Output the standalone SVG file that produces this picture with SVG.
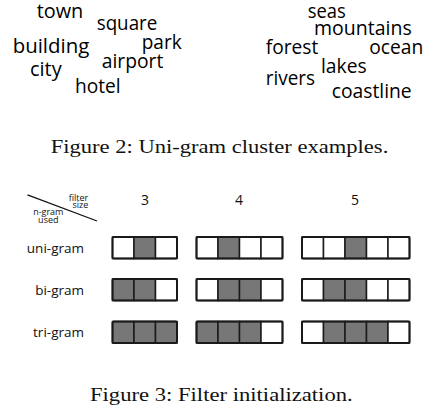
<svg xmlns="http://www.w3.org/2000/svg" width="431" height="409" viewBox="0 0 431 409">
<style>
.w{font-family:"Open Sans","DejaVu Sans",sans-serif;font-size:19.5px;fill:#000}
.cap{font-family:"Liberation Serif","Times New Roman",serif;font-size:19.5px;fill:#111}
.lab{font-family:"Open Sans","DejaVu Sans",sans-serif;font-size:13.5px;fill:#111;text-anchor:end}
.num{font-family:"Open Sans","DejaVu Sans",sans-serif;font-size:14px;fill:#111;text-anchor:middle}
.sm{font-family:"Open Sans","DejaVu Sans",sans-serif;font-size:9px;fill:#111}
.c{fill:#fff;stroke:#1a1a1a;stroke-width:1.5}
.g{fill:#777;stroke:#1a1a1a;stroke-width:1.5}
.o{fill:none;stroke:#1a1a1a;stroke-width:2}
</style>
<defs>
<rect id="cw" class="c" width="21.5" height="21.5"/>
<rect id="cg" class="g" width="21.5" height="21.5"/>
</defs>
<g id="cloud-left">
<text class="w" x="36.7" y="17.8" textLength="46.6" lengthAdjust="spacingAndGlyphs">town</text>
<text class="w" x="96.7" y="29.5" textLength="60.6" lengthAdjust="spacingAndGlyphs">square</text>
<text class="w" x="12.7" y="53.3" textLength="76.6" lengthAdjust="spacingAndGlyphs">building</text>
<text class="w" x="141.7" y="49.3" textLength="40" lengthAdjust="spacingAndGlyphs">park</text>
<text class="w" x="30" y="76" textLength="31.7" lengthAdjust="spacingAndGlyphs">city</text>
<text class="w" x="101.7" y="68.3" textLength="61.6" lengthAdjust="spacingAndGlyphs">airport</text>
<text class="w" x="75" y="92.7" textLength="45.7" lengthAdjust="spacingAndGlyphs">hotel</text>
</g>
<g id="cloud-right">
<text class="w" x="307.7" y="17.8" textLength="38" lengthAdjust="spacingAndGlyphs">seas</text>
<text class="w" x="314" y="35.2" textLength="97.7" lengthAdjust="spacingAndGlyphs">mountains</text>
<text class="w" x="265.7" y="54.3" textLength="52.6" lengthAdjust="spacingAndGlyphs">forest</text>
<text class="w" x="369.3" y="54.3" textLength="54" lengthAdjust="spacingAndGlyphs">ocean</text>
<text class="w" x="321" y="72.7" textLength="45.7" lengthAdjust="spacingAndGlyphs">lakes</text>
<text class="w" x="265.7" y="85" textLength="49.3" lengthAdjust="spacingAndGlyphs">rivers</text>
<text class="w" x="331.7" y="98.3" textLength="80" lengthAdjust="spacingAndGlyphs">coastline</text>
</g>
<text class="cap" x="50.7" y="153.3" textLength="337.6" lengthAdjust="spacingAndGlyphs">Figure 2: Uni-gram cluster examples.</text>
<g id="header">
<line x1="27.5" y1="194.8" x2="97" y2="221" stroke="#111" stroke-width="1.3"/>
<text class="sm" x="88.3" y="201" text-anchor="end">filter</text>
<text class="sm" x="88.3" y="208" text-anchor="end">size</text>
<text class="sm" x="48.3" y="214.8" text-anchor="middle">n-gram</text>
<text class="sm" x="48.3" y="222.8" text-anchor="middle">used</text>
<text class="num" x="145" y="204.5">3</text>
<text class="num" x="239" y="204.5">4</text>
<text class="num" x="355" y="204.5">5</text>
</g>
<g id="row-labels">
<text class="lab" x="84" y="252.5">uni-gram</text>
<text class="lab" x="84" y="294.5">bi-gram</text>
<text class="lab" x="84" y="337">tri-gram</text>
</g>
<g id="f3-uni"><use href="#cw" x="112.5" y="237"/><use href="#cg" x="134" y="237"/><use href="#cw" x="155.5" y="237"/><rect class="o" x="112.5" y="237" width="64.5" height="21.5" rx="1.5"/></g>
<g id="f3-bi"><use href="#cg" x="112.5" y="279"/><use href="#cg" x="134" y="279"/><use href="#cw" x="155.5" y="279"/><rect class="o" x="112.5" y="279" width="64.5" height="21.5" rx="1.5"/></g>
<g id="f3-tri"><use href="#cg" x="112.5" y="321.5"/><use href="#cg" x="134" y="321.5"/><use href="#cg" x="155.5" y="321.5"/><rect class="o" x="112.5" y="321.5" width="64.5" height="21.5" rx="1.5"/></g>
<g id="f4-uni"><use href="#cw" x="196.5" y="237"/><use href="#cg" x="218" y="237"/><use href="#cw" x="239.5" y="237"/><use href="#cw" x="261" y="237"/><rect class="o" x="196.5" y="237" width="86" height="21.5" rx="1.5"/></g>
<g id="f4-bi"><use href="#cw" x="196.5" y="279"/><use href="#cg" x="218" y="279"/><use href="#cg" x="239.5" y="279"/><use href="#cw" x="261" y="279"/><rect class="o" x="196.5" y="279" width="86" height="21.5" rx="1.5"/></g>
<g id="f4-tri"><use href="#cg" x="196.5" y="321.5"/><use href="#cg" x="218" y="321.5"/><use href="#cg" x="239.5" y="321.5"/><use href="#cw" x="261" y="321.5"/><rect class="o" x="196.5" y="321.5" width="86" height="21.5" rx="1.5"/></g>
<g id="f5-uni"><use href="#cw" x="302" y="237"/><use href="#cw" x="323.5" y="237"/><use href="#cg" x="345" y="237"/><use href="#cw" x="366.5" y="237"/><use href="#cw" x="388" y="237"/><rect class="o" x="302" y="237" width="107.5" height="21.5" rx="1.5"/></g>
<g id="f5-bi"><use href="#cw" x="302" y="279"/><use href="#cg" x="323.5" y="279"/><use href="#cg" x="345" y="279"/><use href="#cw" x="366.5" y="279"/><use href="#cw" x="388" y="279"/><rect class="o" x="302" y="279" width="107.5" height="21.5" rx="1.5"/></g>
<g id="f5-tri"><use href="#cw" x="302" y="321.5"/><use href="#cg" x="323.5" y="321.5"/><use href="#cg" x="345" y="321.5"/><use href="#cg" x="366.5" y="321.5"/><use href="#cw" x="388" y="321.5"/><rect class="o" x="302" y="321.5" width="107.5" height="21.5" rx="1.5"/></g>
<text class="cap" x="90" y="400.7" textLength="262.7" lengthAdjust="spacingAndGlyphs">Figure 3: Filter initialization.</text>
</svg>
